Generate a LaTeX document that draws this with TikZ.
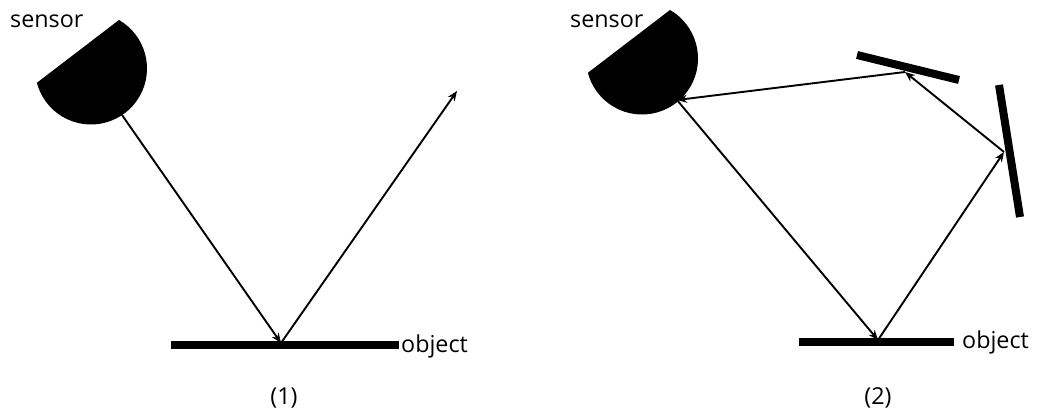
\documentclass[tikz,border=0pt]{standalone}
\usepackage{fontspec}
\setmainfont{Open Sans}
\usetikzlibrary{arrows.meta}
\tikzset{
  ray/.style={draw=black,line width=1.9pt,-{Stealth[length=10pt,width=8pt]}},
  bar/.style={draw=black,line width=8pt},
  lbl/.style={font=\fontsize{23.3}{28}\selectfont,inner sep=0pt,text=black},
  sensorshape/.style={fill=black}
}
\begin{document}
\begin{tikzpicture}[x=1pt,y=1pt]
\useasboundingbox (0,0) rectangle (1038,419);
% panel 1
\fill[sensorshape] (119,399) arc[start angle=60,end angle=-165.2,radius=56] -- cycle;
\coordinate (s1) at (122,304);
\coordinate (h1) at (281,76);
\coordinate (f1) at (457,328);
\draw[bar] (171,74) -- (399,74);
\draw[ray] (s1) -- (h1);
\draw[ray] (h1) -- (f1);
\node[lbl,anchor=west] (sensorA) at (10,398) {sensor};
\node[lbl,anchor=west] (objectA) at (401,73) {object};
\node[lbl] (capA) at (284,21) {(1)};
% panel 2
\fill[sensorshape] (670,409) arc[start angle=60,end angle=-165.2,radius=56] -- cycle;
\coordinate (s2) at (677,319);
\coordinate (h2) at (878,79);
\coordinate (m1) at (1004,267);
\coordinate (m2) at (905,347);
\draw[bar] (799,77) -- (954,77);
\draw[bar] (857,364) -- (959,339);
\draw[bar] (999,334) -- (1020,202);
\draw[ray] (s2) -- (h2);
\draw[ray] (h2) -- (m1);
\draw[ray] (m1) -- (m2);
\draw[ray] (m2) -- (s2);
\node[lbl,anchor=west] (sensorB) at (570,398) {sensor};
\node[lbl,anchor=west] (objectB) at (962,77) {object};
\node[lbl] (capB) at (878,21) {(2)};
\end{tikzpicture}
\end{document}
